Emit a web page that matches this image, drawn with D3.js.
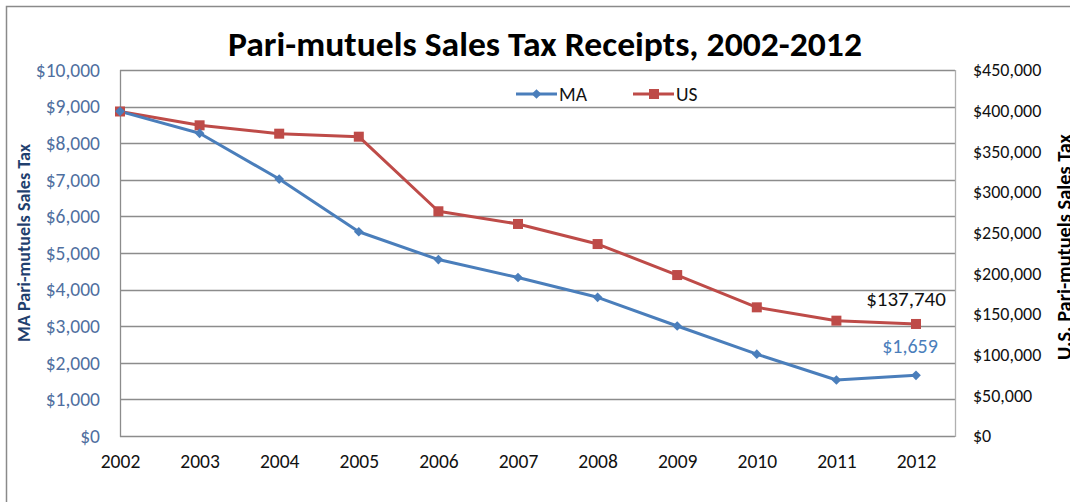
<!DOCTYPE html>
<html>
<head>
<meta charset="utf-8">
<script src="https://cdn.jsdelivr.net/npm/d3@7"></script>
<style>
  html, body { margin: 0; padding: 0; background: #fff; }
  svg { display: block; }
  text { font-family: Carlito, "Noto Sans", "Open Sans", sans-serif; }
</style>
</head>
<body>
<svg id="chart" width="1070" height="502"></svg>
<script>
// Pari-mutuels sales tax receipts, Massachusetts vs. United States
const years = ["2002","2003","2004","2005","2006","2007","2008","2009","2010","2011","2012"];
const maValues = [8870, 8270, 7020, 5580, 4820, 4330, 3790, 3005, 2235, 1530, 1659];
const usValues = [399000, 382000, 371700, 368000, 276300, 260700, 236000, 197900, 158200, 141800, 137740];
const leftTicks = [0,1000,2000,3000,4000,5000,6000,7000,8000,9000,10000];
const rightTicks = [0,50000,100000,150000,200000,250000,300000,350000,400000,450000];

const titleText = "Pari-mutuels Sales Tax Receipts, 2002-2012";
const leftTitle = "MA Pari-mutuels Sales Tax";
const rightTitle = "U.S. Pari-mutuels Sales Tax";

const blue = "#4a7ebb", red = "#be4b48";
const leftLabelColor = "#4f6fa0", leftTitleColor = "#1f3f6e";

const svg = d3.select("#chart");

// plot frame
const plot = { left: 120, right: 955, top: 70, bottom: 436 };

const x = d3.scalePoint().domain(years).range([plot.left, 916]);
const yL = d3.scaleLinear().domain([0, 10000]).range([plot.bottom, plot.top]);
const yR = d3.scaleLinear().domain([0, 450000]).range([plot.bottom, plot.top]);
const money = v => "$" + d3.format(",")(v);

// outer chart border
svg.append("rect")
  .attr("x", 6.5).attr("y", 6.5).attr("width", 1100).attr("height", 520)
  .attr("fill", "none").attr("stroke", "#8a8a8a").attr("stroke-width", 1.5);

// title
svg.append("text")
  .attr("x", 545).attr("y", 56)
  .attr("text-anchor", "middle")
  .attr("font-size", 34).attr("font-weight", "bold").attr("fill", "#000")
  .attr("textLength", 634).attr("lengthAdjust", "spacingAndGlyphs")
  .text(titleText);

// horizontal gridlines
svg.append("g").selectAll("line").data(leftTicks).join("line")
  .attr("x1", plot.left).attr("x2", plot.right)
  .attr("y1", d => Math.round(yL(d)) + 0.5).attr("y2", d => Math.round(yL(d)) + 0.5)
  .attr("stroke", "#8c8c8c").attr("stroke-width", 1.3);

// plot frame sides
svg.append("line")
  .attr("x1", plot.left + 0.5).attr("x2", plot.left + 0.5)
  .attr("y1", plot.top).attr("y2", plot.bottom + 1)
  .attr("stroke", "#8c8c8c").attr("stroke-width", 1.3);
svg.append("line")
  .attr("x1", plot.right + 0.5).attr("x2", plot.right + 0.5)
  .attr("y1", plot.top).attr("y2", plot.bottom + 1)
  .attr("stroke", "#b0b0b0").attr("stroke-width", 1.3);

// left axis labels
const leftAxis = d3.axisLeft(yL).tickValues(leftTicks).tickFormat(money).tickSize(0).tickPadding(20);
const gL = svg.append("g").attr("transform", `translate(${plot.left},0)`).call(leftAxis);
gL.select(".domain").remove();
gL.selectAll("text").attr("font-size", 19.5).attr("fill", leftLabelColor)
  .attr("font-family", 'Carlito, "Noto Sans", sans-serif');

// right axis labels
const rightAxis = d3.axisRight(yR).tickValues(rightTicks).tickFormat(money).tickSize(0).tickPadding(18);
const gR = svg.append("g").attr("transform", `translate(${plot.right},0)`).call(rightAxis);
gR.select(".domain").remove();
gR.selectAll("text").attr("font-size", 18).attr("fill", "#111")
  .attr("font-family", 'Carlito, "Noto Sans", sans-serif');

// category axis labels
const bottomAxis = d3.axisBottom(x).tickSize(0).tickPadding(18);
const gB = svg.append("g").attr("transform", `translate(0,${plot.bottom})`).call(bottomAxis);
gB.select(".domain").remove();
gB.selectAll("text").attr("font-size", 19.5).attr("fill", "#111")
  .attr("font-family", 'Carlito, "Noto Sans", sans-serif');

// axis titles, sized to their span along the axis
function axisTitle(txt, cx, cy, span, color) {
  const t = svg.append("text")
    .attr("transform", `translate(${cx},${cy}) rotate(-90)`)
    .attr("text-anchor", "middle")
    .attr("font-size", 17).attr("font-weight", "bold").attr("fill", color)
    .text(txt);
  const w = t.node().getComputedTextLength();
  if (w > 0) t.attr("font-size", 17 * span / w);
  return t;
}
axisTitle(leftTitle, 30, 243, 198, leftTitleColor);
axisTitle(rightTitle, 1071, 247, 226, "#000");

// series lines
const lineL = d3.line().x((d, i) => x(years[i])).y(d => yL(d));
const lineR = d3.line().x((d, i) => x(years[i])).y(d => yR(d));

svg.append("path").datum(usValues).attr("d", lineR)
  .attr("fill", "none").attr("stroke", red).attr("stroke-width", 3).attr("stroke-linejoin", "round");
svg.append("path").datum(maValues).attr("d", lineL)
  .attr("fill", "none").attr("stroke", blue).attr("stroke-width", 3).attr("stroke-linejoin", "round");

// markers
svg.append("g").selectAll("rect").data(usValues).join("rect")
  .attr("x", (d, i) => x(years[i]) - 5).attr("y", d => yR(d) - 5)
  .attr("width", 10).attr("height", 10).attr("fill", red);
const diamond = d3.symbol().type(d3.symbolDiamond2).size(60);
svg.append("g").selectAll("path").data(maValues).join("path")
  .attr("transform", (d, i) => `translate(${x(years[i])},${yL(d)})`)
  .attr("d", diamond).attr("fill", blue);

// value labels on last points
const last = years.length - 1;
svg.append("text")
  .attr("x", x(years[last]) - 10).attr("y", yR(usValues[last]) - 18)
  .attr("text-anchor", "middle").attr("font-size", 21).attr("fill", "#111")
  .text(money(usValues[last]));
svg.append("text")
  .attr("x", x(years[last]) - 6).attr("y", yL(maValues[last]) - 22.5)
  .attr("text-anchor", "middle").attr("font-size", 20).attr("fill", blue)
  .text(money(maValues[last]));

// legend
const legend = [
  { name: "MA", color: blue, x0: 516, shape: "diamond" },
  { name: "US", color: red, x0: 633, shape: "square" }
];
const lg = svg.append("g");
legend.forEach(l => {
  lg.append("line").attr("x1", l.x0).attr("x2", l.x0 + 41).attr("y1", 94).attr("y2", 94)
    .attr("stroke", l.color).attr("stroke-width", 3);
  if (l.shape === "square") {
    lg.append("rect").attr("x", l.x0 + 16).attr("y", 89).attr("width", 10).attr("height", 10).attr("fill", l.color);
  } else {
    lg.append("path").attr("transform", `translate(${l.x0 + 20.5},94)`).attr("d", diamond).attr("fill", l.color);
  }
  lg.append("text").attr("x", l.x0 + 43).attr("y", 94).attr("dy", "0.35em")
    .attr("font-size", 19.5).attr("fill", "#111").text(l.name);
});
</script>
</body>
</html>
